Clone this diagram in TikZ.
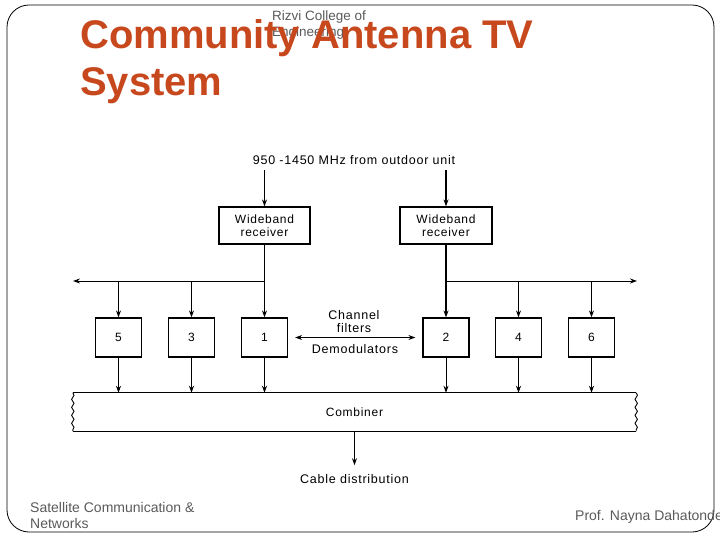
\documentclass[tikz,border=0pt]{standalone}
\usepackage{fontspec}
\setmainfont{Liberation Sans}
\newfontfamily\diagfont[LetterSpace=6]{Liberation Sans}
\usetikzlibrary{arrows.meta,decorations.pathmorphing}
\definecolor{titlecol}{RGB}{200,72,30}
\definecolor{footgray}{RGB}{90,90,90}
\begin{document}
\begin{tikzpicture}[x=1pt,y=-1pt,
  blk/.style={draw,line width=1.2pt,minimum width=46pt,minimum height=39pt,inner sep=0pt,font=\diagfont\fontsize{12}{14}\selectfont},
  rcv/.style={draw,line width=1.2pt,minimum width=91pt,minimum height=37pt,inner sep=0pt,align=center,font=\diagfont\fontsize{12}{13}\selectfont},
  conn/.style={line width=0.9pt,-{Stealth[length=7pt,width=5pt]}},
  thickconn/.style={line width=1.5pt,-{Stealth[length=7pt,width=5pt]}},
  lbl/.style={font=\diagfont\fontsize{12.5}{13}\selectfont,inner sep=0pt},
  foot/.style={anchor=base west,inner sep=0pt,font=\fontsize{14}{16}\selectfont,text=footgray}
]
\useasboundingbox (0,0) rectangle (720,540);
% slide border
\draw[line width=0.8pt,rounded corners=22pt] (7,5) rectangle (714,532);
% header texts
\node[anchor=base west,inner sep=0pt,font=\fontsize{13.5}{16}\selectfont,text=footgray] (rz1) at (272,21) {Rizvi College of};
\node[anchor=base west,inner sep=0pt,font=\fontsize{13.5}{16}\selectfont,text=footgray] (rz2) at (272,37) {Engineering};
\node[anchor=base west,inner sep=0pt,font=\fontsize{40}{47}\selectfont\bfseries,text=titlecol] (t1) at (80,49) {Community Antenna TV};
\node[anchor=base west,inner sep=0pt,font=\fontsize{40}{47}\selectfont\bfseries,text=titlecol] (t2) at (80,96) {System};
% footer
\node[foot] (f1) at (30,512) {Satellite Communication \&};
\node[foot] (f2) at (30,528) {Networks};
\node[foot] (f3) at (575,520) {Prof. Nayna Dahatonde};
% diagram
\node[lbl] (src) at (354,160) {950 -1450 MHz from outdoor unit};
\coordinate (inL) at (264.5,170);
\coordinate (inR) at (446,170);
\node[rcv] (rcvL) at (264.5,225.5) {Wideband\\receiver};
\node[rcv,minimum width=92pt] (rcvR) at (446,225.5) {Wideband\\receiver};
\node[blk] (b5) at (118.5,337.5) {5};
\node[blk] (b3) at (191.5,337.5) {3};
\node[blk] (b1) at (264.5,337.5) {1};
\node[blk] (b2) at (446,337.5) {2};
\node[blk] (b4) at (518.5,337.5) {4};
\node[blk] (b6) at (591.5,337.5) {6};
\node[lbl,align=center] (cf) at (354,322) {Channel\\filters};
\node[lbl] (dm) at (355,349) {Demodulators};
\node[minimum width=563pt,minimum height=38pt,inner sep=0pt,font=\diagfont\fontsize{12}{13}\selectfont] (comb) at (354.5,412) {Combiner};
\node[lbl] (cable) at (354.5,479) {Cable distribution};
\coordinate (jL) at (264.5,281);
\coordinate (jR) at (446,281);
\coordinate (endL) at (73,281);
\coordinate (endR) at (637,281);
% combiner outline
\draw[line width=1.2pt] (comb.north west) -- (comb.north east);
\draw[line width=1.2pt] (comb.south west) -- (comb.south east);
\draw[line width=0.9pt,decorate,decoration={snake,amplitude=1.2pt,segment length=8pt}] (comb.north west) -- (comb.south west);
\draw[line width=0.9pt,decorate,decoration={snake,amplitude=1.2pt,segment length=8pt}] (comb.north east) -- (comb.south east);
% inputs
\draw[thickconn] (inL) -- (rcvL.north);
\draw[thickconn] (inR) -- (rcvR.north);
% receivers to first filters
\draw[thickconn] (rcvL.south) -- (b1.north);
\draw[thickconn] (rcvR.south) -- (b2.north);
% distribution lines
\draw[conn] (jL) -- (endL);
\draw[conn] (jR) -- (endR);
\draw[conn] (b5.north |- jL) -- (b5.north);
\draw[thickconn] (b3.north |- jL) -- (b3.north);
\draw[conn] (b4.north |- jR) -- (b4.north);
\draw[thickconn] (b6.north |- jR) -- (b6.north);
% channel filters arrow
\draw[line width=0.9pt,{Stealth[length=7pt,width=5pt]}-{Stealth[length=7pt,width=5pt]},shorten <=7pt,shorten >=7pt] (b1.east) -- (b2.west);
% filters to combiner
\draw[conn] (b5.south) -- (b5.south |- comb.north);
\draw[thickconn] (b3.south) -- (b3.south |- comb.north);
\draw[thickconn] (b1.south) -- (b1.south |- comb.north);
\draw[conn] (b2.south) -- (b2.south |- comb.north);
\draw[conn] (b4.south) -- (b4.south |- comb.north);
\draw[conn] (b6.south) -- (b6.south |- comb.north);
% output
\draw[conn,shorten >=9pt] (comb.south) -- (cable.north);
\end{tikzpicture}
\end{document}
